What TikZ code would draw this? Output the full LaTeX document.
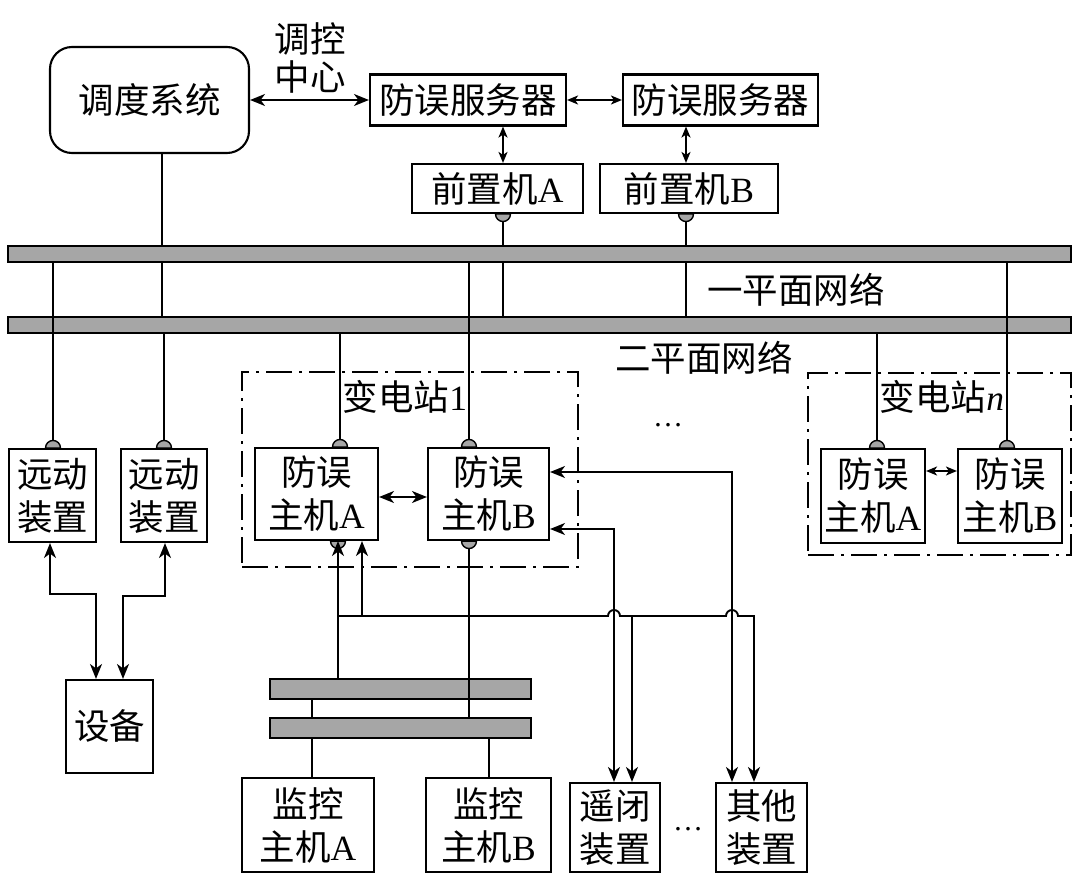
\documentclass[tikz,border=0pt]{standalone}
\usepackage{fontspec}
\setmainfont{Liberation Serif}
\newfontfamily\cjk{Noto Sans CJK SC}
\usetikzlibrary{arrows.meta,calc}
\definecolor{busgray}{HTML}{A6A6A6}
\newcommand{\rmx}[1]{{\rmfamily #1}}
\newcommand{\knobup}[1]{\filldraw[knob] (#1) ++(-7.5pt,0) arc[start angle=180,end angle=0,radius=7.5pt] -- cycle;}
\newcommand{\knobdn}[1]{\filldraw[knob] (#1) ++(-7.5pt,0) arc[start angle=180,end angle=360,radius=7.5pt] -- cycle;}
\tikzset{
  box/.style={draw, line width=2.1pt, fill=white, inner sep=0pt, align=center,
    font=\cjk\fontsize{35.5pt}{43pt}\selectfont},
  lbl/.style={inner sep=0pt, align=center, font=\cjk\fontsize{35.5pt}{38pt}\selectfont},
  bus/.style={draw, line width=2.1pt, fill=busgray, inner sep=0pt},
  subbox/.style={draw, line width=1.8pt, dash pattern=on 26pt off 7pt on 3pt off 7pt, inner sep=0pt},
  ln/.style={line width=1.9pt},
  knob/.style={fill=busgray, draw=black, line width=1.4pt},
  dbl/.style={ln, {Stealth[length=15pt,width=12pt,inset=4.5pt]}-{Stealth[length=15pt,width=12pt,inset=4.5pt]}},
  sdbl/.style={ln, {Stealth[length=11pt,width=9pt,inset=3pt]}-{Stealth[length=11pt,width=9pt,inset=3pt]}},
  arr/.style={ln, -{Stealth[length=15pt,width=12pt,inset=4.5pt]}},
}
\begin{document}
\begin{tikzpicture}[x=1pt,y=-1pt]
\useasboundingbox (0,0) rectangle (1080,880);

% buses
\node[bus, minimum width=1063pt, minimum height=16pt] (bus1) at (539.5,254) {};
\node[bus, minimum width=1063pt, minimum height=16pt] (bus2) at (539.5,325) {};
\node[bus, minimum width=261pt, minimum height=20pt] (sbA) at (400.5,689) {};
\node[bus, minimum width=261pt, minimum height=20pt] (sbB) at (400.5,728) {};

% top
\node[box, rounded corners=22pt, minimum width=199pt, minimum height=106pt] (dd) at (149.5,100) {调度系统};
\node[lbl] (tk) at (310,58) {调控\\中心};
\node[box, minimum width=196pt, minimum height=51pt] (s1) at (468,100) {防误服务器};
\node[box, minimum width=195pt, minimum height=51pt] (s2) at (720.5,100) {防误服务器};
\node[box, minimum width=171pt, minimum height=49pt] (fa) at (497.5,188.5) {前置机\rmx{A}};
\node[box, minimum width=178pt, minimum height=49pt] (fb) at (689,188.5) {前置机\rmx{B}};
\node[lbl] (n1) at (796,290) {一平面网络};
\node[lbl] (n2) at (704,358) {二平面网络};

% substation 1
\node[subbox, minimum width=336pt, minimum height=195pt] (st1) at (410,469.5) {};
\node[lbl] (st1l) at (405,397) {变电站\rmx{1}};
\node[box, minimum width=123pt, minimum height=92pt] (ha1) at (316.5,494) {防误\\主机\rmx{A}};
\node[box, minimum width=121pt, minimum height=92pt] (hb1) at (488.5,494) {防误\\主机\rmx{B}};
\node[lbl, font=\rmfamily\fontsize{30pt}{30pt}\selectfont] (dots1) at (668,425) {\ldots};

% substation n
\node[subbox, minimum width=263pt, minimum height=182pt] (stn) at (939.5,464) {};
\node[lbl] (stnl) at (942,397) {变电站\rmx{\itshape n}};
\node[box, minimum width=104pt, minimum height=94pt] (han) at (873,496) {防误\\主机\rmx{A}};
\node[box, minimum width=104pt, minimum height=94pt] (hbn) at (1010,496) {防误\\主机\rmx{B}};

% left
\node[box, minimum width=87pt, minimum height=93pt] (yd1) at (52.5,495.5) {远动\\装置};
\node[box, minimum width=86pt, minimum height=93pt] (yd2) at (164,495.5) {远动\\装置};
\node[box, minimum width=87pt, minimum height=93pt] (sb) at (109.5,726.5) {设备};

% bottom
\node[box, minimum width=132pt, minimum height=94pt] (jkA) at (308,825) {监控\\主机\rmx{A}};
\node[box, minimum width=125pt, minimum height=94pt] (jkB) at (488.5,825) {监控\\主机\rmx{B}};
\node[box, minimum width=90pt, minimum height=89pt] (yb) at (615,827.5) {遥闭\\装置};
\node[box, minimum width=91pt, minimum height=89pt] (qt) at (761.5,827.5) {其他\\装置};
\node[lbl, font=\rmfamily\fontsize{30pt}{30pt}\selectfont] (dots2) at (688,829) {\ldots};

% named x positions / waypoints
\coordinate (xdd) at (162,0);
\coordinate (xfa) at (503,0);
\coordinate (xfb) at (686,0);
\coordinate (xy1) at (53,0);
\coordinate (xy2) at (164,0);
\coordinate (xa1) at (340,0);
\coordinate (xb1) at (469,0);
\coordinate (xan) at (877,0);
\coordinate (xbn) at (1007,0);
\coordinate (xaB) at (338,0);
\coordinate (xaC) at (362,0);
\coordinate (xjA) at (312,0);
\coordinate (xjB) at (489,0);
\coordinate (hy) at (0,616);
\coordinate (p614) at (614,529);
\coordinate (p732) at (732,472);
\coordinate (x632) at (632,616);
\coordinate (x754) at (754,616);
\coordinate (h1) at (608,616);
\coordinate (h2) at (726,616);
\coordinate (c1) at (50,594);
\coordinate (c2) at (96,594);
\coordinate (c3) at (165,596);
\coordinate (c4) at (123,596);

% plain network lines
\draw[ln] (xdd |- dd.south) -- (xdd |- bus1.north);
\draw[ln] (xdd |- bus1.south) -- (xdd |- bus2.north);
\draw[ln] (xfa |- fa.south) -- (xfa |- bus1.north);
\draw[ln] (xfa |- bus1.south) -- (xfa |- bus2.north);
\draw[ln] (xfb |- fb.south) -- (xfb |- bus1.north);
\draw[ln] (xfb |- bus1.south) -- (xfb |- bus2.north);
\draw[ln] (xy1 |- bus1.south) -- (xy1 |- yd1.north);
\draw[ln] (xy2 |- bus2.south) -- (xy2 |- yd2.north);
\draw[ln] (xa1 |- bus2.south) -- (xa1 |- ha1.north);
\draw[ln] (xb1 |- bus1.south) -- (xb1 |- hb1.north);
\draw[ln] (xan |- bus2.south) -- (xan |- han.north);
\draw[ln] (xbn |- bus1.south) -- (xbn |- hbn.north);
\draw[ln] (xb1 |- hb1.south) -- (xb1 |- sbB.north);
\draw[ln] (xjA |- sbA.south) -- (xjA |- sbB.north);
\draw[ln] (xjA |- sbB.south) -- (xjA |- jkA.north);
\draw[ln] (xjB |- sbB.south) -- (xjB |- jkB.north);

% knobs
\knobup{xy1 |- yd1.north}
\knobup{xy2 |- yd2.north}
\knobup{xa1 |- ha1.north}
\knobup{xb1 |- hb1.north}
\knobup{xan |- han.north}
\knobup{xbn |- hbn.north}
\knobdn{xfa |- fa.south}
\knobdn{xfb |- fb.south}
\knobdn{xaB |- ha1.south}
\knobdn{xb1 |- hb1.south}

% arrows
\draw[dbl] (dd.east) -- (s1.west);
\draw[sdbl] (s1.east) -- (s2.west);
\draw[sdbl] (xfa |- s1.south) -- (xfa |- fa.north);
\draw[sdbl] (xfb |- s2.south) -- (xfb |- fb.north);
\draw[dbl] ([yshift=-3pt]ha1.east) -- ([yshift=-3pt]hb1.west);
\draw[sdbl] ([yshift=25pt]han.east) -- ([yshift=25pt]hbn.west);
\draw[dbl] (c1 |- yd1.south) -- (c1) -- (c2) -- (c2 |- sb.north);
\draw[dbl] (c3 |- yd2.south) -- (c3) -- (c4) -- (c4 |- sb.north);
\draw[dbl] (hb1.east |- p732) -- (p732) -- (p732 |- qt.north);
\draw[dbl] (hb1.east |- p614) -- (p614) -- (p614 |- yb.north);
\draw[arr] (xaB |- sbA.north) -- (xaB |- ha1.south);
\draw[arr] (xaC |- hy) -- (xaC |- ha1.south);
\draw[arr] (xaB |- hy) -- (h1) arc[start angle=180,end angle=0,radius=6pt] -- (h2) arc[start angle=180,end angle=0,radius=6pt] -- (x754) -- (x754 |- qt.north);
\draw[arr] (x632) -- (x632 |- yb.north);
\end{tikzpicture}
\end{document}
